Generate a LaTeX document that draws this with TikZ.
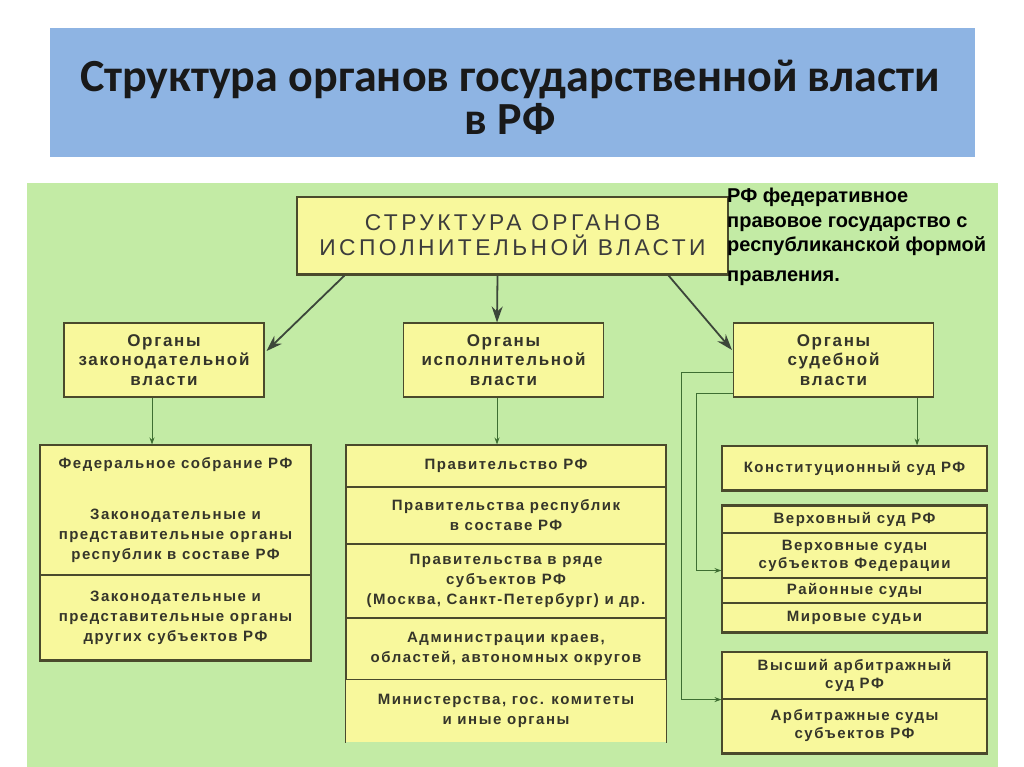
\documentclass[tikz,border=0pt]{standalone}
\usepackage{fontspec}
\setmainfont{Liberation Sans}
\newfontfamily\titlefont{Carlito}
\newfontfamily\boxfont{Liberation Sans}[LetterSpace=10]
\newfontfamily\capsfont{Liberation Sans}[LetterSpace=15]
\usetikzlibrary{calc,arrows.meta}
\definecolor{hdrblue}{HTML}{8EB4E3}
\definecolor{bggreen}{HTML}{C3EBA5}
\definecolor{boxyellow}{HTML}{F8F89C}
\definecolor{boxline}{HTML}{4A4A2C}
\definecolor{txtdark}{HTML}{35352A}
\definecolor{conngreen}{HTML}{3E6E32}
\definecolor{arrowdark}{HTML}{3C463A}
\definecolor{capsgray}{HTML}{3C3C3C}
\begin{document}
\begin{tikzpicture}[x=1pt,y=-1pt,
  cell/.style={draw=boxline, line width=1.1pt, fill=boxyellow, inner sep=0pt, align=center, text=txtdark,
    font=\boxfont\bfseries\fontsize{15}{20}\selectfont},
  rcell/.style={cell, minimum width=265, font=\boxfont\bfseries\fontsize{15}{18}\selectfont},
  mcell/.style={cell, minimum width=320},
  lvl2/.style={cell, minimum width=200, minimum height=74, font=\boxfont\bfseries\fontsize{17}{19.5}\selectfont},
  mainbox/.style={draw=boxline, line width=1.3pt, fill=boxyellow, minimum width=431, minimum height=77, inner sep=0pt,
    align=center, text=capsgray, font=\capsfont\fontsize{22.8}{25}\selectfont},
  shadowline/.style={draw=boxline, line width=2.6pt},
  bigarrow/.style={draw=arrowdark, line width=1.8pt, -{Stealth[length=16pt,width=11pt]}},
  garrow/.style={draw=conngreen, line width=1pt, -{Stealth[length=7pt,width=5pt]}}
]
\useasboundingbox (0,0) rectangle (1024,767);
\fill[white] (0,0) rectangle (1024,767);
% header
\node[fill=hdrblue, minimum width=925, minimum height=129, inner sep=0pt] (hdr) at (512.5,92.5) {};
\node[align=center, font=\titlefont\bfseries\fontsize{46}{43}\selectfont, text=black!90] (title) at (510,97)
  {Структура органов государственной власти\\в РФ};
% green background
\fill[bggreen] (27,183) rectangle (998,767);
% main box
\node[mainbox] (main) at (512.5,235.5) {СТРУКТУРА ОРГАНОВ\\ИСПОЛНИТЕЛЬНОЙ ВЛАСТИ};
\draw[shadowline] (main.south west) -- (main.south east);
\node[anchor=north west, align=left, inner sep=0pt, font=\bfseries\fontsize{20}{24.5}\selectfont] (note) at (727,188)
  {РФ федеративное\\правовое государство с\\республиканской формой\\[5pt]правления.};
% level 2
\node[lvl2] (lb) at (164,360) {Органы\\законодательной\\власти};
\node[lvl2] (mb) at (503.5,360) {Органы\\исполнительной\\власти};
\node[lvl2] (rb) at (833.5,360) {Органы\\судебной\\власти};
% left column
\node[cell, minimum width=271, minimum height=130] (l1) at (175.5,510)
  {Федеральное собрание РФ\\[31pt]Законодательные и\\представительные органы\\республик в составе РФ};
\node[cell, minimum width=271, minimum height=85] (l2) at (175.5,617.5)
  {Законодательные и\\представительные органы\\других субъектов РФ};
\draw[shadowline] (l2.south west) -- (l2.south east);
% middle column
\node[mcell, minimum height=42] (m1) at (506,466) {Правительство РФ};
\node[mcell, minimum height=57] (m2) at (506,515.5) {Правительства республик\\в составе РФ};
\node[mcell, minimum height=74] (m3) at (506,581) {Правительства в ряде\\субъектов РФ\\(Москва, Санкт-Петербург) и др.};
\node[mcell, minimum height=62] (m4) at (506,649) {Администрации краев,\\областей, автономных округов};
\node[mcell, draw=none, minimum height=62] (m5) at (506,711) {Министерства, гос. комитеты\\и иные органы};
\draw[boxline, line width=1.1pt] (m5.north west) -- (m5.south west) (m5.north east) -- (m5.south east);
% right column
\node[rcell, minimum height=44] (rk) at (854.5,468) {Конституционный суд РФ};
\draw[shadowline] (rk.south west) -- (rk.south east);
\node[rcell, minimum height=27] (s1) at (854.5,519.5) {Верховный суд РФ};
\node[rcell, minimum height=45] (s2) at (854.5,555.5) {Верховные суды\\субъектов Федерации};
\node[rcell, minimum height=25] (s3) at (854.5,590.5) {Районные суды};
\node[rcell, minimum height=29] (s4) at (854.5,617.5) {Мировые судьи};
\draw[shadowline] (s4.south west) -- (s4.south east);
\draw[shadowline] (s1.north west) -- (s1.north east);
\node[rcell, minimum height=47] (a1) at (854.5,675.5) {Высший арбитражный\\суд РФ};
\node[rcell, minimum height=54] (a2) at (854.5,726) {Арбитражные суды\\субъектов РФ};
\draw[shadowline] (a2.south west) -- (a2.south east);
% connectors from main box
\draw[bigarrow] ($(main.south west)+(48,1)$) -- ($(lb.east)+(2,-9)$);
\draw[bigarrow] ($(main.south)+(-15,1)$) -- ($(mb.north)+(-6.5,0)$);
\draw[bigarrow] ($(main.south east)+(-60,1)$) -- ($(rb.west)+(-1,-10)$);
% level 2 to level 3
\coordinate (lbs) at ($(lb.south)+(-12,0)$);
\draw[garrow] (lbs) -- (lbs |- l1.north);
\coordinate (mbs) at ($(mb.south)+(-6.5,0)$);
\draw[garrow] (mbs) -- (mbs |- m1.north);
\coordinate (rbs) at ($(rb.south east)+(-17,0)$);
\draw[garrow] (rbs) -- (rbs |- rk.north);
\draw[garrow] ($(rb.south west)+(0,-4)$) -- ++(-36,0) |- ($(s2.west)+(0,15)$);
\draw[garrow] ($(rb.west)+(0,12)$) -- ++(-51,0) |- (a1.south west);
\end{tikzpicture}
\end{document}
